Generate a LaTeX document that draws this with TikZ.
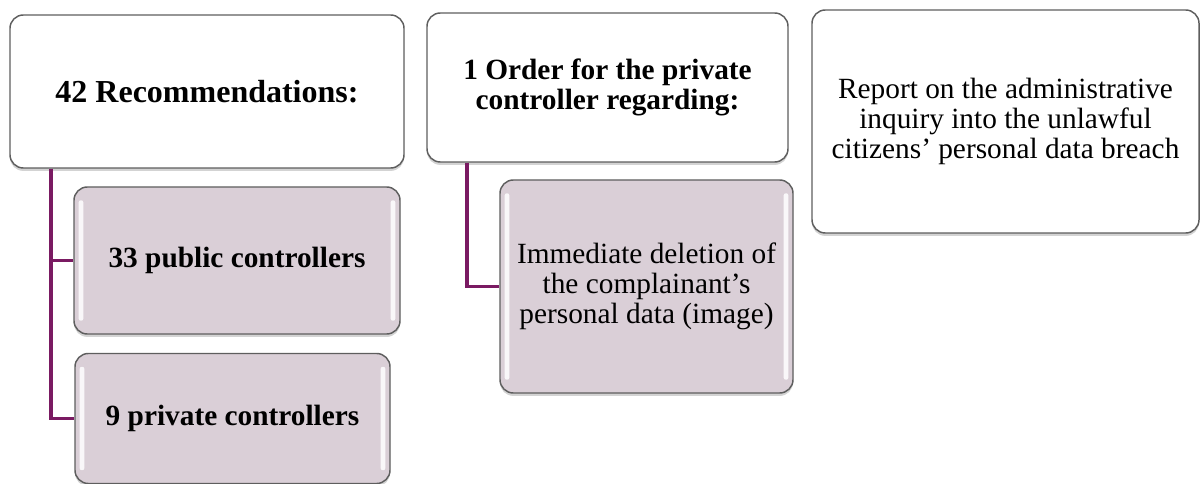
\documentclass[tikz,border=0pt]{standalone}
\usepackage{fontspec}
\setmainfont{Liberation Serif}
\usetikzlibrary{shadows}
\definecolor{linkpurple}{HTML}{7A1A62}
\definecolor{childfill}{HTML}{DACFD7}
\definecolor{boxborder}{HTML}{5E5E5E}
\tikzset{
  basebox/.style={draw=boxborder, line width=1.1pt, rounded corners=10pt,
    inner sep=0pt, align=center,
    drop shadow={shadow xshift=0pt, shadow yshift=-2.2pt, opacity=0.35, fill=gray}},
  parentbox/.style={basebox, fill=white},
  childbox/.style={basebox, fill=childfill,
    path picture={
      \fill[white,opacity=0.85,rounded corners=1.5pt]
        ([xshift=3.5pt,yshift=-10pt]path picture bounding box.north west)
        rectangle ([xshift=7pt,yshift=10pt]path picture bounding box.south west);
      \fill[white,opacity=0.85,rounded corners=1.5pt]
        ([xshift=-3.5pt,yshift=-10pt]path picture bounding box.north east)
        rectangle ([xshift=-7pt,yshift=10pt]path picture bounding box.south east);
    }},
  link/.style={draw=linkpurple, line width=2.4pt},
  boldtxt/.style={font=\fontsize{22}{23}\selectfont\bfseries},
  titletxt/.style={font=\fontsize{24}{25}\selectfont\bfseries},
  plaintxt/.style={font=\fontsize{22}{22.5}\selectfont},
}
\begin{document}
\begin{tikzpicture}[x=0.75pt,y=-0.75pt]
\useasboundingbox (0,0) rectangle (1201,484);
% connectors first (behind boxes)
\coordinate (jA) at (51,160);
\coordinate (jB) at (467,155);
\node[parentbox, titletxt, minimum width=295.5pt, minimum height=114.75pt] (A) at (207,91.5) {42 Recommendations:};
\node[childbox, boldtxt, minimum width=244.5pt, minimum height=110.25pt] (A1) at (237,260.5) {33 public controllers};
\node[childbox, boldtxt, minimum width=236.25pt, minimum height=97.5pt] (A2) at (232.5,418.5) {9 private controllers};
\node[parentbox, boldtxt, minimum width=270.75pt, minimum height=111.75pt] (B) at (607.5,87.5) {1 Order for the private\\controller regarding:};
\node[childbox, plaintxt, minimum width=219.75pt, minimum height=159.75pt] (B1) at (646.5,286.5) {Immediate deletion of\\the complainant’s\\personal data (image)};
\node[parentbox, plaintxt, minimum width=290.25pt, minimum height=167.25pt] (C) at (1005.5,121.5) {Report on the administrative\\inquiry into the unlawful\\citizens’ personal data breach};
\begin{scope}[on background layer/.style={}]
\end{scope}
\draw[link] (A.south -| jA) |- (A1.west);
\draw[link] (A.south -| jA) |- (A2.west);
\draw[link] (B.south -| jB) |- (B1.west);
\end{tikzpicture}
\end{document}
